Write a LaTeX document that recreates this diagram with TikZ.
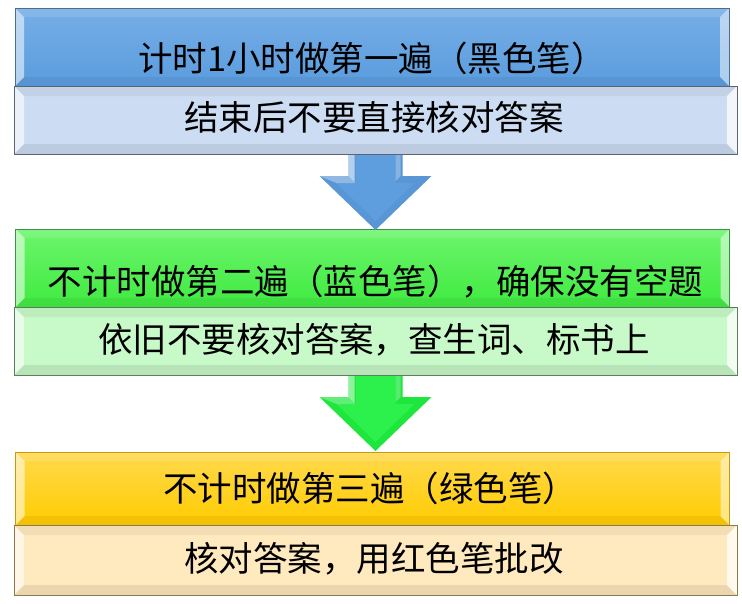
\documentclass[tikz,border=0pt]{standalone}
\usepackage{fontspec}
\setmainfont{Noto Sans CJK SC}
\definecolor{bHeadTop}{HTML}{76AEE6}
\definecolor{bHeadBot}{HTML}{5A9CDE}
\definecolor{bSub}{HTML}{CCDDF3}
\definecolor{bLine}{HTML}{4F6E8F}
\definecolor{bSubLine}{HTML}{5B6470}
\definecolor{gHeadTop}{HTML}{6CF56C}
\definecolor{gHeadBot}{HTML}{40EA40}
\definecolor{gSub}{HTML}{C8F9C8}
\definecolor{gLine}{HTML}{3E8E4E}
\definecolor{gSubLine}{HTML}{5F7A5F}
\definecolor{yHeadTop}{HTML}{FFD94D}
\definecolor{yHeadBot}{HTML}{FFCC00}
\definecolor{ySub}{HTML}{FFE9BE}
\definecolor{yLine}{HTML}{C79A10}
\definecolor{ySubLine}{HTML}{8A7A50}
\definecolor{bArrow}{HTML}{5896D6}
\definecolor{bArrowIn}{HTML}{5E9EDE}
\definecolor{gArrow}{HTML}{1EE63C}
\definecolor{gArrowIn}{HTML}{2CF04B}
\begin{document}
\begin{tikzpicture}[x=1pt,y=-1pt,
  every node/.style={inner sep=0pt,outer sep=0pt},
  bev/.style n args={5}{path picture={
    \fill[#2] (path picture bounding box.north west) -- (path picture bounding box.north east)
      -- ([xshift=-#1,yshift=-#1]path picture bounding box.north east)
      -- ([xshift=#1,yshift=-#1]path picture bounding box.north west) -- cycle;
    \fill[#3] (path picture bounding box.north west) -- ([xshift=#1,yshift=-#1]path picture bounding box.north west)
      -- ([xshift=#1,yshift=#1]path picture bounding box.south west) -- (path picture bounding box.south west) -- cycle;
    \fill[#4] (path picture bounding box.south west) -- ([xshift=#1,yshift=#1]path picture bounding box.south west)
      -- ([xshift=-#1,yshift=#1]path picture bounding box.south east) -- (path picture bounding box.south east) -- cycle;
    \fill[#5] (path picture bounding box.north east) -- (path picture bounding box.south east)
      -- ([xshift=-#1,yshift=#1]path picture bounding box.south east)
      -- ([xshift=-#1,yshift=-#1]path picture bounding box.north east) -- cycle;
  }},
  headbox/.style={rectangle,line width=0.8pt,minimum width=714pt,
    bev={9pt}{white,opacity=.12}{white,opacity=.55}{black,opacity=.05}{white,opacity=.5}},
  subbox/.style={rectangle,line width=1pt,minimum width=723pt,minimum height=68pt,
    bev={10pt}{black,opacity=.05}{white,opacity=.6}{black,opacity=.08}{white,opacity=.75}},
  txt/.style={anchor=base,font=\fontsize{34.5}{40}\selectfont,text=black},
  pics/downarrow/.style n args={3}{code={
    \fill[#1] (-27,1) -- (27,1) -- (27,22) -- (56,22) -- (0,76) -- (-56,22) -- (-27,22) -- cycle;
    \fill[#2] (-20,1) -- (20,1) -- (20,29) -- (39,29) -- (0,67) -- (-39,29) -- (-20,29) -- cycle;
    \fill[#3] (-27,1) -- (-21,1) -- (-21,28) -- (-27,22) -- cycle;
    \fill[#3,opacity=.5] (20,1) -- (25,1) -- (25,22) -- (20,27) -- cycle;
    \fill[#3,opacity=.6] (-56,22) -- (-27,22) -- (-20,29) -- (-39,29) -- cycle;
  }}
]
\useasboundingbox (0,0) rectangle (742,603);

% blue block
\node[headbox,draw=bLine,top color=bHeadTop,bottom color=bHeadBot,minimum height=78pt] (h1) at (372,47) {};
\node[subbox,draw=bSubLine,fill=bSub] (s1) at (375.5,120) {};
% green block
\node[headbox,draw=gLine,top color=gHeadTop,bottom color=gHeadBot,minimum height=78pt] (h2) at (372.5,268) {};
\node[subbox,draw=gSubLine,fill=gSub] (s2) at (375.5,341) {};
% yellow block
\node[headbox,draw=yLine,top color=yHeadTop,bottom color=yHeadBot,minimum height=73pt] (h3) at (372.5,488.5) {};
\node[subbox,draw=ySubLine,fill=ySub,minimum height=70pt] (s3) at (375.5,560) {};

% arrows
\pic at (s1.south) {downarrow={bArrow}{bArrowIn}{white!55!bArrow}};
\pic at (s2.south) {downarrow={gArrow}{gArrowIn}{white!50!gArrow}};

% texts
\node[txt] (t1) at (372,71) {计时1小时做第一遍（黑色笔）};
\node[txt] (t2) at (374,130) {结束后不要直接核对答案};
\node[txt] (t3) at (375.5,294) {不计时做第二遍（蓝色笔），确保没有空题};
\node[txt] (t4) at (374,352) {依旧不要核对答案，查生词、标书上};
\node[txt] (t5) at (370,501) {不计时做第三遍（绿色笔）};
\node[txt] (t6) at (374,571) {核对答案，用红色笔批改};
\end{tikzpicture}
\end{document}
